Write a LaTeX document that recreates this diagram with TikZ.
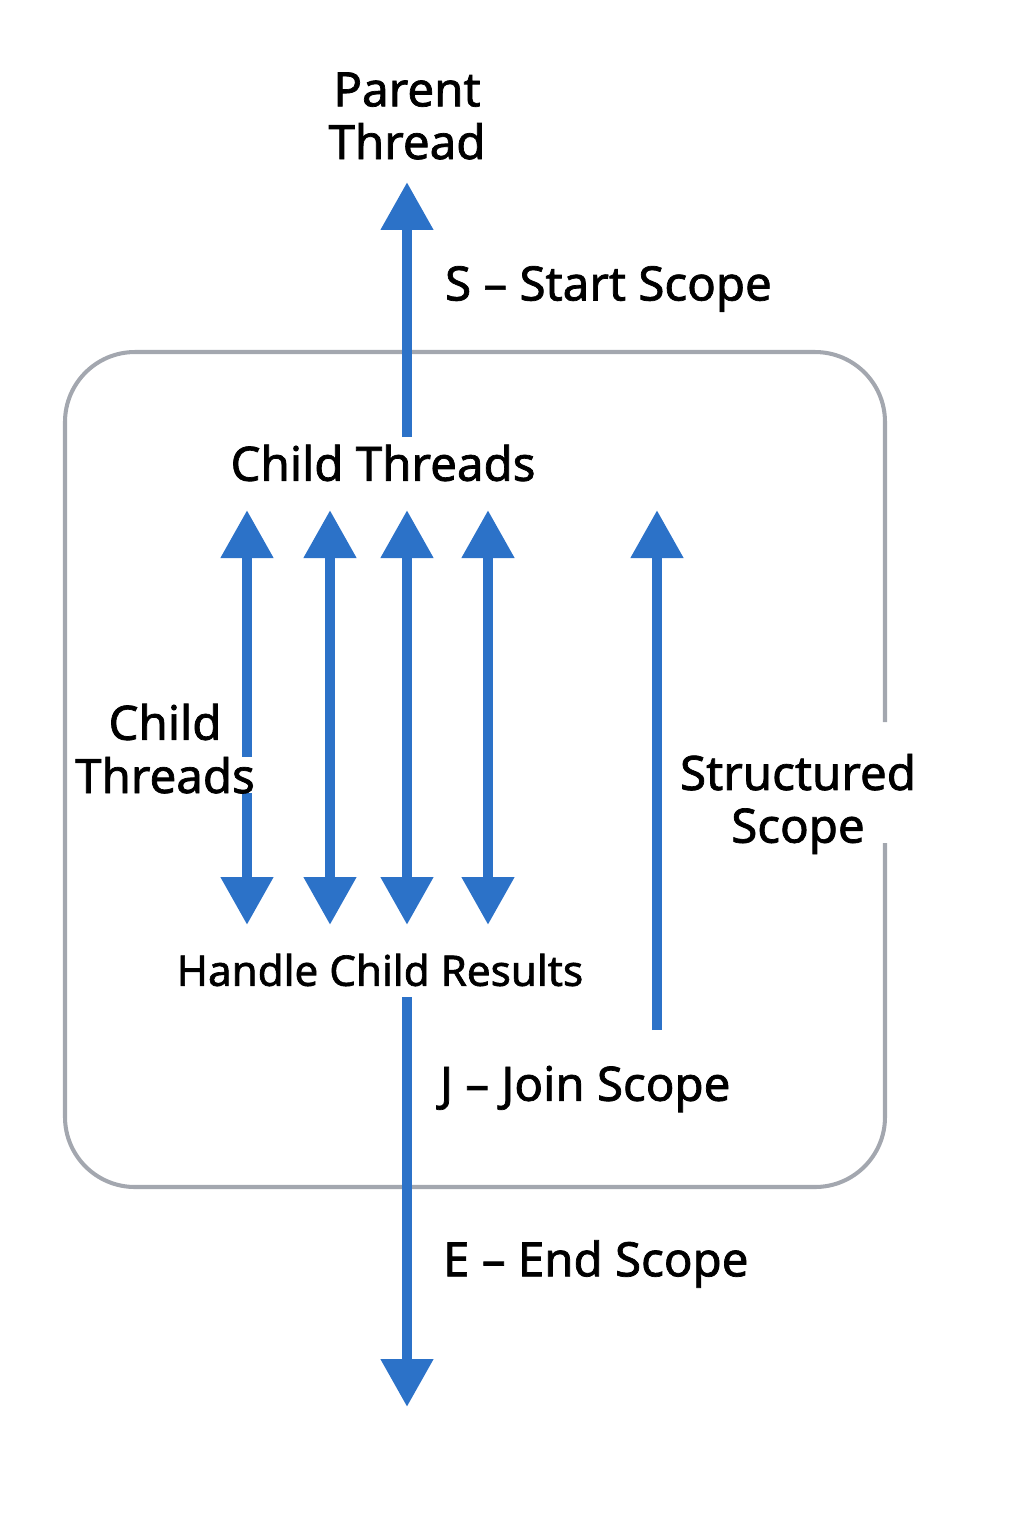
\documentclass[tikz,border=0pt]{standalone}
\usepackage{fontspec}
\setmainfont{Noto Sans}[FakeBold=1.5]
\usetikzlibrary{arrows.meta}
\definecolor{threadblue}{RGB}{44,114,200}
\definecolor{scopegray}{RGB}{163,167,175}
\tikzset{
  lbl/.style={font=\fontsize{27}{30}\selectfont, align=center, inner sep=1pt},
  tipbig/.tip={Triangle[width=1cm,length=0.96cm]},
  flow/.style={draw=threadblue, line width=6.2pt, -tipbig},
  both/.style={draw=threadblue, line width=6.2pt, tipbig-tipbig}
}
\begin{document}
\begin{tikzpicture}[x=0.02cm,y=-0.02cm]
                \useasboundingbox (0,0) rectangle (1024,1536);

                % the scope box, open where its label sits
                \draw[scopegray, line width=2.3pt, rounded corners=1.4cm]
                    (885,722) -- (885,352) -- (65,352) -- (65,1187) -- (885,1187) -- (885,843);

                \node[lbl] (parent) at (407,116) {Parent\\Thread};
                \node[lbl, anchor=west] (start) at (443,289) {S -- Start Scope};
                \node[lbl] (ctop) at (383,463) {Child Threads};

                \coordinate (A) at (407,437);
                \coordinate (B) at (407,182);
                \draw[flow] (A) -- (B);

                \foreach \x/\n in {247/a,330/b,407/c,488/d} {
                    \coordinate (top\n) at (\x,510);
                    \coordinate (bot\n) at (\x,925);
                    \draw[both] (bot\n) -- (top\n);
                }

                \coordinate (M) at (657,1030);
                \coordinate (N) at (657,510);
                \draw[flow] (M) -- (N);

                \node[lbl] (cchild) at (165,722) {Child};
                \node[lbl, fill=white, inner sep=0pt, anchor=base] (cthreads) at (165,793) {Threads};
                \node[lbl] (struct) at (798,804) {Structured\\Scope};
                \node[lbl, font=\fontsize{24}{28}\selectfont] (handle) at (380,970) {Handle Child Results};

                \coordinate (E) at (407,997);
                \coordinate (F) at (407,1407);
                \draw[flow] (E) -- (F);

                \node[lbl, anchor=west] (join) at (438,1089) {J -- Join Scope};
                \node[lbl, anchor=west] (finish) at (441,1264) {E -- End Scope};
            \end{tikzpicture}
\end{document}
